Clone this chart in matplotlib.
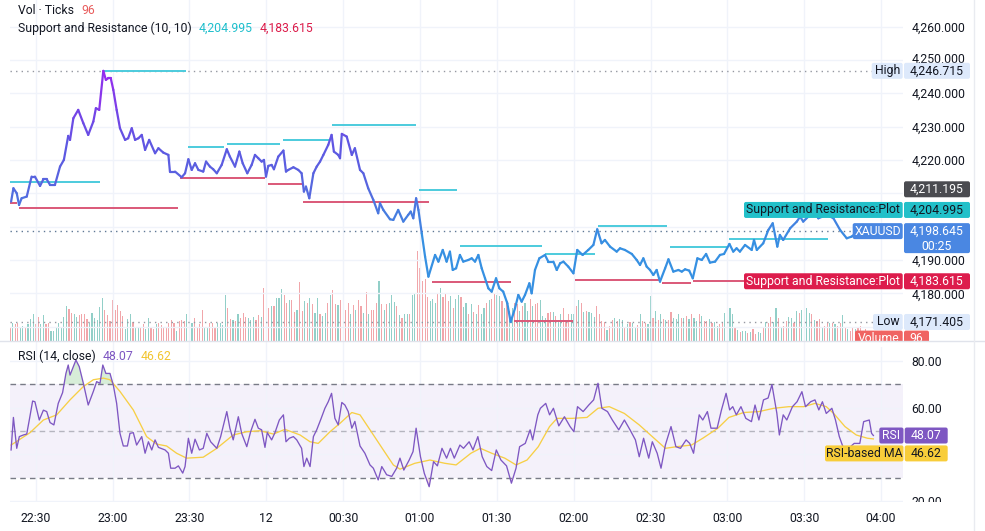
import matplotlib
matplotlib.use("Agg")
import matplotlib.pyplot as plt
import matplotlib.transforms as mtransforms
from matplotlib.collections import LineCollection
from matplotlib.colors import LinearSegmentedColormap, Normalize
from matplotlib.patches import FancyBboxPatch, Rectangle
import numpy as np

plt.rcParams['font.family'] = ['Roboto', 'DejaVu Sans']
plt.rcParams['font.size'] = 8.8

# XAUUSD, 1 minute bars, 11 Dec 22:20 -> 12 Dec 03:57
# all times are minutes after 22:00
price_pts = [
    (20.4, 4207.5), (21.3, 4211.5), (22.6, 4210.0), (23.5, 4206.5), (24.5, 4208.5),
    (26.5, 4209.0), (28.4, 4215.0), (29.7, 4215.0), (31.7, 4212.2), (33.0, 4214.2),
    (34.3, 4214.2), (35.6, 4212.5), (37.5, 4212.5), (39.5, 4218.0), (41.0, 4220.0),
    (42.7, 4227.2), (43.4, 4226.0), (44.7, 4232.5), (46.6, 4235.0), (48.6, 4231.0),
    (50.5, 4227.5), (52.5, 4231.5), (53.5, 4235.5), (54.8, 4235.0), (56.4, 4246.7),
    (57.4, 4244.0), (58.3, 4244.5), (59.3, 4244.5), (60.3, 4241.0), (61.6, 4235.0),
    (62.9, 4229.5), (64.9, 4226.0), (66.1, 4226.5), (67.5, 4229.5), (68.8, 4226.0),
    (70.1, 4226.5), (71.4, 4227.5), (72.7, 4223.0), (74.3, 4226.0), (76.6, 4222.0),
    (77.9, 4223.5), (79.8, 4222.2), (81.8, 4221.5), (82.4, 4216.5), (84.4, 4216.5),
    (87.0, 4214.8), (88.3, 4216.0), (89.6, 4220.2), (90.9, 4217.0), (92.2, 4219.0),
    (93.5, 4217.0), (95.4, 4216.5), (96.5, 4219.5), (98.0, 4218.0), (99.3, 4217.2),
    (100.7, 4216.0), (102.6, 4218.5), (104.6, 4223.2), (105.8, 4221.0), (107.8, 4218.0),
    (109.5, 4222.5), (110.8, 4219.0), (112.6, 4216.0), (114.3, 4218.5), (115.6, 4221.5),
    (116.9, 4220.5), (118.2, 4219.5), (119.1, 4220.0), (119.9, 4215.0), (120.8, 4218.2),
    (122.1, 4218.5), (123.0, 4217.2), (124.7, 4221.0), (126.7, 4222.8), (127.7, 4216.5),
    (128.6, 4217.0), (130.6, 4217.8), (132.5, 4217.0), (133.8, 4216.0), (134.7, 4210.5),
    (135.5, 4212.0), (136.8, 4208.5), (138.4, 4216.0), (139.7, 4218.0), (141.0, 4219.5),
    (142.3, 4221.5), (144.2, 4224.5), (145.5, 4227.5), (146.4, 4222.5), (148.1, 4221.5),
    (148.8, 4220.5), (149.5, 4227.8), (151.4, 4227.0), (153.4, 4221.5), (154.6, 4223.5),
    (156.6, 4217.0), (157.9, 4216.0), (159.8, 4211.5), (161.8, 4208.0), (163.7, 4204.0),
    (164.4, 4207.0), (165.7, 4205.0), (168.3, 4202.2), (169.6, 4202.0), (171.5, 4205.0),
    (173.5, 4201.5), (175.4, 4203.5), (176.4, 4204.5), (177.4, 4202.5), (178.5, 4208.5),
    (179.4, 4205.0), (180.7, 4198.0), (182.0, 4191.0), (183.3, 4185.0), (185.9, 4191.5),
    (187.2, 4189.5), (188.9, 4193.0), (190.4, 4189.5), (191.7, 4192.5), (192.8, 4187.0),
    (194.1, 4187.5), (195.6, 4191.5), (196.9, 4189.5), (198.9, 4190.0), (200.2, 4190.5),
    (201.5, 4189.5), (202.8, 4191.5), (204.1, 4187.5), (205.4, 4184.5), (206.7, 4181.5),
    (208.0, 4180.5), (209.7, 4184.5), (211.0, 4181.5), (212.5, 4180.5), (214.1, 4177.0),
    (215.4, 4171.4), (217.1, 4175.5), (218.4, 4179.5), (219.7, 4177.5), (221.0, 4179.5),
    (222.7, 4183.0), (223.6, 4180.0), (224.9, 4187.0), (226.6, 4190.5), (228.8, 4191.5),
    (230.1, 4189.5), (232.1, 4189.5), (233.4, 4187.0), (234.7, 4189.0), (236.0, 4189.5),
    (237.9, 4188.0), (239.9, 4186.0), (241.4, 4193.0), (243.5, 4191.5), (245.7, 4193.0),
    (247.7, 4194.5), (249.2, 4199.2), (250.9, 4195.0), (252.2, 4196.0), (254.2, 4194.0),
    (256.8, 4192.5), (258.1, 4193.5), (260.0, 4193.0), (262.7, 4191.8), (264.6, 4190.0),
    (265.9, 4188.5), (267.2, 4190.5), (268.5, 4188.0), (269.8, 4187.0), (271.1, 4185.5),
    (272.4, 4187.0), (273.7, 4183.5), (275.7, 4187.5), (277.0, 4190.2), (278.9, 4186.5),
    (280.9, 4187.0), (282.2, 4186.5), (283.5, 4187.2), (285.1, 4186.8), (286.5, 4184.5),
    (288.3, 4190.5), (290.0, 4190.0), (291.7, 4191.8), (293.2, 4189.2), (295.2, 4189.5),
    (297.1, 4191.5), (298.7, 4191.8), (300.8, 4194.8), (302.3, 4192.5), (303.6, 4193.5),
    (304.9, 4192.5), (306.9, 4194.5), (309.5, 4193.0), (310.4, 4196.0), (311.5, 4193.0),
    (314.0, 4195.0), (316.0, 4199.0), (317.7, 4201.0), (319.5, 4194.0), (320.5, 4197.5),
    (321.8, 4196.0), (324.5, 4199.5), (327.1, 4201.5), (328.4, 4203.0), (329.6, 4201.5),
    (331.6, 4203.0), (333.5, 4205.0), (335.5, 4202.5), (338.8, 4203.5), (341.4, 4202.5),
    (344.0, 4199.0), (346.6, 4196.5), (348.5, 4197.0), (352.5, 4199.5), (356.9, 4198.645),
]

# tick volume per minute, starting 22:20
volume = [
    520, 720, 680, 720, 520, 600, 520, 680, 880, 1080,
    680, 960, 680, 1040, 680, 720, 400, 400, 560, 720,
    520, 960, 1400, 1280, 1120, 1080, 960, 1040, 1080, 1080,
    880, 720, 1120, 920, 840, 1360, 1720, 1240, 1040, 800,
    1640, 1240, 1440, 1200, 1000, 480, 880, 1080, 760, 520,
    560, 520, 680, 480, 920, 560, 480, 680, 720, 640,
    520, 520, 720, 840, 720, 400, 800, 840, 800, 1080,
    560, 720, 920, 560, 680, 1240, 560, 560, 720, 720,
    520, 720, 720, 640, 1840, 1320, 880, 840, 800, 1080,
    920, 1120, 960, 920, 840, 960, 840, 1040, 960, 2120,
    1520, 1320, 1400, 1400, 1720, 1720, 2080, 1840, 1520, 1640,
    1640, 1160, 1240, 2360, 1200, 1600, 1520, 1720, 1480, 1120,
    1720, 1080, 1000, 1120, 1520, 1840, 2040, 1480, 1440, 1640,
    1240, 1240, 1520, 1080, 1440, 1240, 1640, 1400, 1120, 1960,
    1080, 1240, 1240, 1520, 2400, 1480, 1240, 1480, 1520, 1840,
    1560, 1400, 1040, 920, 1080, 1080, 1080, 1840, 1880, 3600,
    2920, 2400, 2480, 1760, 1600, 1680, 1520, 1920, 2120, 1760,
    1880, 1600, 1800, 1320, 1680, 1840, 1760, 1360, 1520, 1080,
    1480, 1160, 1080, 1440, 1080, 1320, 1520, 1640, 1680, 1880,
    1840,
    1800, 1600, 1320, 1600, 1200, 1320, 1520, 1480, 1200, 1400,
    1520, 1200, 1680, 1400, 1480, 1520, 1640, 1000, 920, 1120,
    1160, 1160, 1000, 840, 1080, 1320, 800, 1080, 1080, 1080,
    1400, 1640, 1520, 1160, 1200, 1160, 1120, 960, 1400, 1080,
    800, 760, 440, 600, 840, 920, 800, 880, 840, 520,
    680, 760, 720, 560, 640, 1080, 800, 720, 680, 1800,
    920, 1200, 840, 1080, 880, 840, 840, 1160, 920, 880,
    1080, 920, 920, 1000, 880, 1080, 920, 800, 1080, 1000,
    800, 800, 880, 720, 760, 600, 680, 720, 1120, 1320,
    1320, 1080, 520, 440, 360, 400, 400, 320, 360, 480,
    280, 360, 320, 520, 760, 720, 960, 760, 1320, 920,
    520, 600, 800, 960, 920, 720, 1200, 1120, 1240, 1640,
    1320, 1120, 1080, 840, 800, 880, 520, 600, 720, 720,
    720, 680, 600, 720, 1040, 520, 480, 400, 520, 480,
    520, 600, 400, 480, 400, 96,
]
# bar direction, r = down, g = up
vol_dir = "".join([
    "rgrrggrggg", "rrggrrgggg", "gggrrggrrr", "rggggggrrr", "rrrrrgggrg",
    "grrggrrgrr", "rrrrrgrrrg", "ggrrrrggrr", "rggggrrgrg", "rrrgggrrgr",
    "grgrgggrrg", "rrgrrgrgrg", "grggrgrrgr", "grrgrgrrgr", "grrrgrgrgg",
    "grgrggrggr", "rrrrgggrgr", "r", "rgrggrggrgrgrggrgrrg",
    "grgrggrrgr", "ggrgrrgggr", "rgrggrrrgg", "rgrgrgggrr", "rrgrrgrggr",
    "grggrgrrgg", "rgrgrgrrgg", "grgrgrggrg", "rrgrggrrgr", "ggrgrggrgr",
    "rggrgrrggr", "grrggrgrgr", "ggrgrrgrrg", "rgrrgrgrrg", "rrgrgr",
])

# Support and Resistance (10, 10) segments
res_start = [20.0, 56.7, 89.5, 104.7, 126.5, 145.7, 179.6, 195.6, 228.8, 249.5, 277.6, 300.8, 340.0]
res_end = [55.1, 88.7, 103.5, 125.4, 144.9, 178.5, 194.4, 227.6, 248.3, 276.4, 300.0, 339.3, 357.0]
res_level = [4213.3, 4246.7, 4223.8, 4224.7, 4226.0, 4230.5, 4211.0, 4194.2, 4191.8, 4200.3, 4193.8, 4196.2, 4204.995]
sup_start = [20.0, 23.5, 86.3, 120.7, 134.4, 184.7, 216.6, 240.5, 274.5, 286.6]
sup_end = [22.7, 85.5, 119.5, 134.0, 183.6, 215.5, 239.7, 273.7, 285.8, 357.0]
sup_level = [4207.1, 4205.7, 4214.5, 4212.8, 4207.5, 4183.3, 4171.8, 4184.0, 4183.2, 4183.615]

rsi_pts = [
    (20.4, 41.9), (21.3, 55.8), (22.6, 42.6), (23.6, 47.6), (25.2, 48.3), (26.5, 48.7),
    (27.5, 54.7), (28.8, 62.8), (29.7, 62.5), (31.4, 54.7), (33.0, 58.9), (34.3, 58.3),
    (35.6, 53.6), (37.1, 52.6), (38.8, 61.8), (40.5, 66.4), (41.8, 74.6), (42.7, 78.2),
    (43.4, 73.9), (44.7, 77.5), (45.7, 80.3), (47.0, 77.5), (48.6, 70.4), (50.5, 61.1),
    (52.5, 66.9), (53.8, 71.1), (55.1, 70.4), (56.2, 78.2), (57.4, 74.6), (59.0, 74.6),
    (60.3, 69.6), (61.6, 61.8), (62.9, 49.0), (64.2, 43.6), (65.8, 43.6), (66.8, 49.0),
    (68.1, 49.3), (69.4, 44.0), (71.4, 47.6), (72.7, 40.5), (74.0, 45.4), (75.3, 41.9),
    (76.6, 46.2), (77.9, 43.0), (80.5, 41.9), (81.8, 40.5), (82.7, 34.1), (84.4, 34.1),
    (85.7, 35.1), (87.4, 32.0), (88.3, 34.8), (89.6, 46.9), (90.9, 40.5), (92.2, 46.5),
    (93.9, 41.9), (95.4, 42.6), (96.8, 49.0), (98.3, 45.4), (100.7, 42.6), (102.2, 47.6),
    (104.6, 58.3), (105.8, 51.2), (107.1, 46.2), (109.1, 56.1), (110.4, 49.0), (112.4, 43.3),
    (113.9, 49.7), (115.6, 55.0), (116.9, 51.2), (118.2, 50.5), (119.5, 43.0), (120.4, 49.3),
    (122.1, 46.2), (123.4, 49.3), (125.1, 54.7), (126.7, 56.9), (127.7, 45.4), (129.0, 46.9),
    (130.6, 47.6), (131.9, 46.2), (133.8, 42.6), (134.7, 34.8), (135.8, 38.4), (137.1, 34.8),
    (138.4, 47.6), (139.7, 50.5), (141.3, 55.0), (142.9, 59.7), (144.2, 62.5), (145.5, 66.1),
    (146.8, 55.4), (148.1, 52.6), (149.5, 62.2), (150.7, 61.1), (152.0, 58.3), (153.4, 51.2),
    (154.6, 54.1), (156.6, 43.6), (158.5, 40.5), (160.5, 35.5), (161.8, 34.1), (163.7, 29.1),
    (165.1, 34.8), (167.0, 31.3), (169.0, 30.6), (170.9, 34.1), (172.2, 38.4), (173.7, 33.3),
    (175.8, 37.6), (177.3, 41.2), (178.5, 51.2), (180.2, 39.0), (181.7, 31.9), (183.6, 26.2),
    (185.3, 36.9), (186.8, 35.1), (188.6, 42.6), (190.4, 38.4), (191.9, 42.6), (193.4, 38.4),
    (195.6, 44.0), (197.0, 42.6), (199.2, 45.4), (200.7, 41.9), (202.6, 47.6), (204.3, 39.0),
    (206.1, 34.8), (208.0, 33.1), (209.8, 41.9), (211.6, 37.6), (213.8, 35.1), (215.7, 27.7),
    (217.5, 34.1), (218.9, 43.3), (221.1, 44.7), (223.0, 50.5), (224.0, 46.2), (226.0, 56.9),
    (227.0, 59.7), (229.1, 61.8), (230.6, 56.9), (232.1, 59.7), (234.2, 52.2), (236.4, 56.1),
    (238.6, 51.9), (240.1, 49.7), (241.5, 60.4), (243.7, 58.3), (245.9, 61.1), (247.8, 63.3),
    (249.5, 70.4), (251.0, 59.7), (253.2, 58.3), (255.1, 54.7), (257.6, 50.5), (259.8, 54.7),
    (262.0, 50.5), (264.1, 46.2), (265.6, 39.0), (267.3, 46.9), (269.3, 38.4), (270.7, 45.4),
    (272.6, 40.5), (274.1, 34.1), (275.8, 44.0), (278.0, 51.9), (279.9, 43.3), (281.7, 42.6),
    (283.9, 46.2), (285.3, 44.7), (286.8, 40.5), (289.0, 56.9), (290.4, 54.7), (292.2, 58.3),
    (293.6, 51.2), (296.0, 51.2), (297.7, 59.0), (299.5, 66.1), (300.9, 59.0), (302.1, 60.4),
    (303.5, 56.9), (305.3, 60.4), (307.2, 55.4), (309.4, 54.0), (310.8, 61.1), (312.3, 54.7),
    (314.1, 63.3), (315.9, 64.1), (317.4, 69.8), (319.3, 57.7), (320.3, 48.3), (321.8, 56.9),
    (323.2, 54.7), (325.4, 60.4), (327.2, 62.5), (329.1, 66.8), (330.5, 60.4), (332.5, 62.5),
    (334.2, 63.3), (335.7, 59.0), (337.1, 62.5), (338.6, 57.5), (340.8, 59.7), (342.2, 54.7),
    (343.7, 47.6), (345.1, 43.3), (346.6, 41.9), (349.5, 44.7), (351.7, 44.7), (353.2, 54.0),
    (355.4, 54.7), (356.3, 49.0), (357.0, 48.07),
]

rsi_ma_pts = [
    (20.4, 44.0), (27.8, 49.3), (33.0, 54.7), (38.2, 56.9), (43.4, 63.3), (48.6, 69.0),
    (52.5, 71.9), (56.4, 72.6), (59.0, 71.9), (62.9, 66.9), (68.1, 59.0), (73.3, 47.6),
    (77.2, 44.4), (81.1, 43.6), (85.0, 40.5), (88.9, 38.4), (95.4, 38.8), (100.7, 42.6),
    (107.1, 48.3), (112.4, 49.7), (117.6, 50.1), (122.8, 48.7), (127.3, 50.7), (133.2, 48.3),
    (137.1, 45.4), (140.3, 44.7), (144.9, 49.7), (148.8, 53.3), (153.4, 57.9), (156.6, 56.9),
    (160.5, 50.5), (165.7, 41.9), (169.6, 35.5), (172.2, 33.7), (178.0, 36.2), (183.9, 37.6),
    (189.7, 36.2), (194.1, 35.5), (199.9, 40.5), (203.6, 42.6), (208.0, 40.5), (213.1, 38.4),
    (217.5, 35.5), (221.8, 37.6), (226.2, 43.3), (230.6, 51.9), (233.5, 55.4), (239.4, 55.4),
    (245.2, 55.8), (249.5, 59.7), (253.9, 60.4), (259.8, 57.5), (265.6, 52.6), (271.4, 46.9),
    (275.8, 42.6), (280.2, 43.3), (286.0, 44.0), (290.4, 46.9), (296.3, 51.2), (300.6, 55.8),
    (306.4, 57.9), (312.3, 58.3), (318.1, 59.7), (324.0, 60.4), (329.8, 60.4), (334.2, 61.8),
    (338.6, 60.4), (341.5, 57.5), (345.9, 51.9), (350.3, 48.3), (354.7, 46.9), (357.0, 46.62),
]

time_ticks = [30, 60, 90, 120, 150, 180, 210, 240, 270, 300, 330, 360]
time_labels = ["22:30", "23:00", "23:30", "12", "00:30", "01:00", "01:30", "02:00",
               "02:30", "03:00", "03:30", "04:00"]
price_ticks = [4170, 4180, 4190, 4200, 4210, 4220, 4230, 4240, 4250, 4260]
price_hidden = [4170, 4200, 4210]
rsi_ticks = [20, 40, 60, 80]
rsi_hidden = [40]

last_close = 4198.645
day_high = 4246.715
day_low = 4171.405
prev_level = 4211.195
last_volume = 96
last_rsi = 48.07
last_rsi_ma = 46.62

TEXT = "#131722"
GRID = "#f0f3fa"

W, H = 985, 531
fig = plt.figure(figsize=(W / 100, H / 100), dpi=100)
fig.patch.set_facecolor("white")
PX = mtransforms.Affine2D().scale(1, -1).translate(0, H)   # image pixels, y down
ID = mtransforms.IdentityTransform()


def pane(top, bottom):
    return fig.add_axes([10 / W, 1 - bottom / H, 893 / W, (bottom - top) / H])


ax = pane(0, 341)
ax_vol = ax.twinx()
ax_rsi = pane(341, 502)
ax.set_zorder(1)
ax.patch.set_visible(False)
ax_vol.set_zorder(0)

xlim = (19.97, 368.56)
for a in (ax, ax_vol, ax_rsi):
    a.set_xlim(*xlim)
    for s in a.spines.values():
        s.set_visible(False)
ax.set_ylim(4165.7, 4267.95)
ax_vol.set_ylim(0, 13640)
ax_rsi.set_ylim(19.66, 88.46)

# ---- main pane
ax.yaxis.tick_right()
ax.set_yticks(price_ticks)
ax.set_yticklabels(["" if p in price_hidden else f"{p:,.3f}" for p in price_ticks])
ax.set_xticks(time_ticks)
ax.tick_params(axis="x", bottom=False, labelbottom=False)
ax.tick_params(axis="y", length=0, pad=6, colors=TEXT)
ax.grid(True, color=GRID, lw=1)
ax_vol.set_yticks([])
# the price scale nudges 4,250 up, away from the High tag
nudge = mtransforms.ScaledTranslation(0, 2.5 / 100, fig.dpi_scale_trans)
for p, lab in zip(price_ticks, ax.get_yticklabels()):
    if p == 4250:
        lab.set_transform(lab.get_transform() + nudge)

vol_t = np.arange(20, 20 + len(volume))
vol_col = ["#92cfc8" if c == "g" else "#f1a6aa" for c in vol_dir]
ax_vol.bar(vol_t, volume, width=0.45, color=vol_col, linewidth=0)

ax.hlines([day_high, day_low], xlim[0], xlim[1], colors="#9598a1", lw=1, linestyles=(0, (1, 3)), zorder=2)
ax.axhline(last_close, color="#5f7895", lw=1, ls=(0, (1, 3)), zorder=2)

ax.hlines(res_level, res_start, res_end, colors="#4ccbdd", lw=1.4, zorder=3)
ax.hlines(sup_level, sup_start, sup_end, colors="#db5878", lw=1.4, zorder=3)

pt = np.array(price_pts)
segs = np.stack([pt[:-1], pt[1:]], axis=1)
cmap = LinearSegmentedColormap.from_list(
    "xau", [(0, "#3690e2"), (0.2, "#4a78e0"), (0.35, "#5864df"), (0.55, "#5d58e2"),
            (0.8, "#7a3ee8"), (1, "#9c27f0")])
lc = LineCollection(segs, cmap=cmap, norm=Normalize(4195, 4247), linewidths=1.6,
                    capstyle="round", joinstyle="round", zorder=4)
lc.set_array((pt[:-1, 1] + pt[1:, 1]) / 2)
ax.add_collection(lc)

# ---- RSI pane
ri = np.array(rsi_pts)
ma = np.array(rsi_ma_pts)
ax_rsi.axhspan(30, 70, color="#7e57c2", alpha=0.08, lw=0)
ax_rsi.fill_between(ri[:, 0], ri[:, 1], 70, where=ri[:, 1] > 70, interpolate=True,
                    color="#4caf50", alpha=0.22, lw=0)
ax_rsi.fill_between(ri[:, 0], ri[:, 1], 30, where=ri[:, 1] < 30, interpolate=True,
                    color="#f23645", alpha=0.15, lw=0)
for lvl, al in ((70, 1), (50, 0.5), (30, 1)):
    ax_rsi.axhline(lvl, color="#787b86", lw=1, ls=(0, (4, 3)), alpha=al)
ax_rsi.plot(ma[:, 0], ma[:, 1], color="#f7cf45", lw=0.95)
ax_rsi.plot(ri[:, 0], ri[:, 1], color="#7e57c2", lw=0.95)
ax_rsi.yaxis.tick_right()
ax_rsi.set_yticks(rsi_ticks)
ax_rsi.set_yticklabels(["" if r in rsi_hidden else f"{r:.2f}" for r in rsi_ticks])
ax_rsi.set_xticks(time_ticks)
ax_rsi.set_xticklabels(time_labels)
ax_rsi.tick_params(axis="both", length=0, colors=TEXT)
ax_rsi.tick_params(axis="y", pad=6)
ax_rsi.tick_params(axis="x", pad=7)
ax_rsi.grid(True, color=GRID, lw=1)


# ---- value tags on the right (shift moves a tag down, in pixels, when tags collide)
def tag(a, value, x0, x1, text, fc, tc, up=8, down=8, sub=None, shift=0):
    yc = a.transData.transform((xlim[0], value))[1] - shift
    fig.add_artist(FancyBboxPatch((x0, yc - down), x1 - x0, up + down,
                                  boxstyle="round,pad=0,rounding_size=2", transform=ID,
                                  fc=fc, ec="none", zorder=10))
    fig.text((x0 + x1) / 2, yc, text, transform=ID, ha="center", va="center",
             color=tc, zorder=11)
    if sub:
        fig.text((x0 + x1) / 2, yc - 15, sub, transform=ID, ha="center", va="center",
                 color=tc, zorder=11)


tag(ax, prev_level, 904, 970, f"{prev_level:,.3f}", "#4a4b50", "white")
tag(ax, res_level[-1], 744, 902.7, "Support and Resistance:Plot", "#22c0c9", TEXT)
tag(ax, res_level[-1], 904, 970, f"{res_level[-1]:,.3f}", "#22c0c9", TEXT)
tag(ax, last_close, 852.7, 902.7, "XAUUSD", "#4a87e2", "white")
tag(ax, last_close, 904, 970, f"{last_close:,.3f}", "#4a87e2", "white", down=22, sub="00:25")
tag(ax, sup_level[-1], 744, 902.7, "Support and Resistance:Plot", "#dd1c4c", "white")
tag(ax, sup_level[-1], 904, 970, f"{sup_level[-1]:,.3f}", "#dd1c4c", "white")
tag(ax, day_high, 871.7, 902.7, "High", "#dde9fb", TEXT)
tag(ax, day_high, 904, 970, f"{day_high:,.3f}", "#dde9fb", TEXT)
tag(ax, day_low, 873, 902.7, "Low", "#dde9fb", TEXT)
tag(ax, day_low, 904, 970, f"{day_low:,.3f}", "#dde9fb", TEXT)
tag(ax_vol, last_volume, 855, 902.7, "Volume", "#f06462", "white")
tag(ax_vol, last_volume, 904, 929, str(last_volume), "#f06462", "white")
tag(ax_rsi, last_rsi, 879.3, 903.5, "RSI", "#7e57c2", "white")
tag(ax_rsi, last_rsi, 904.7, 947.7, f"{last_rsi:.2f}", "#7e57c2", "white")
tag(ax_rsi, last_rsi_ma, 825, 903.5, "RSI-based MA", "#f8cd3a", TEXT, shift=14.5)
tag(ax_rsi, last_rsi_ma, 904.7, 947.7, f"{last_rsi_ma:.2f}", "#f8cd3a", TEXT, shift=14.5)

# pane edges cut the tags
fig.add_artist(Rectangle((840, 341), 145, 6, transform=PX, fc="white", ec="none", zorder=12))
fig.add_artist(Rectangle((903, 502), 82, 29, transform=PX, fc="white", ec="none", zorder=12))
fig.add_artist(plt.Line2D([0, W], [341, 341], transform=PX, color="#e0e3eb", lw=1, zorder=13))
fig.add_artist(plt.Line2D([974, 974], [0, H], transform=PX, color="#e9ebf0", lw=1, zorder=13))


# ---- legends
def legend(y, parts):
    prev = None
    for s, c in parts:
        if prev is None:
            prev = fig.text(18, y, s, transform=PX, color=c, va="center", ha="left")
        else:
            prev = ax.annotate(s, xy=(1, 0.5), xycoords=prev, xytext=(5, 0),
                               textcoords="offset points", va="center", ha="left",
                               color=c, annotation_clip=False)


legend(11, [("Vol · Ticks", TEXT), (str(last_volume), "#e85c5c")])
legend(28, [("Support and Resistance (10, 10)", TEXT), (f"{res_level[-1]:,.3f}", "#1fbfcc"),
            (f"{sup_level[-1]:,.3f}", "#dc1c4a")])
legend(356, [("RSI (14, close)", TEXT), (f"{last_rsi:.2f}", "#7e57c2"),
             (f"{last_rsi_ma:.2f}", "#f2c530")])

fig.savefig("out.png", dpi=100)
